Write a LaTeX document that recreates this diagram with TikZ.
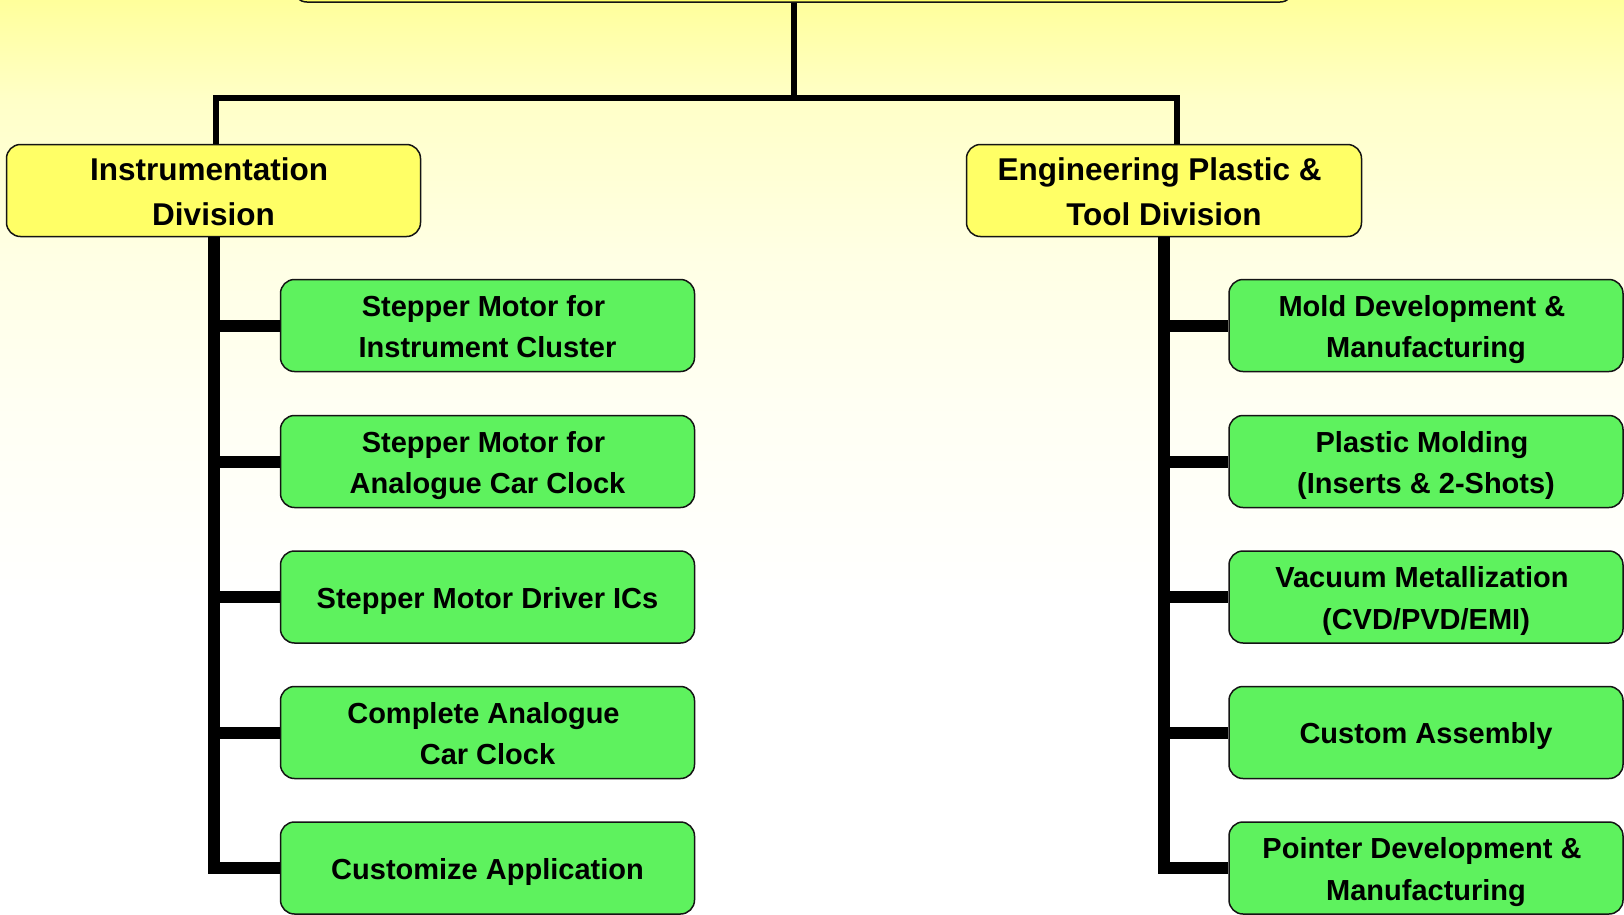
\documentclass[tikz,border=0pt]{standalone}
\usepackage{fontspec}
\setmainfont{Liberation Sans}

\definecolor{divyellow}{RGB}{255,255,102}
\definecolor{unitgreen}{RGB}{94,242,94}
\definecolor{edgeline}{RGB}{20,20,20}
\definecolor{fadeA}{RGB}{255,255,155}
\definecolor{fadeB}{RGB}{255,255,200}
\definecolor{fadeC}{RGB}{255,255,228}
\definecolor{fadeD}{RGB}{255,255,243}

% pale yellow wash fading to white towards the bottom of the page
\pgfdeclareverticalshading{pagefade}{100bp}{%
  color(0bp)=(white); color(42bp)=(white); color(53bp)=(fadeD);
  color(61bp)=(fadeC); color(69.5bp)=(fadeB); color(75bp)=(fadeA);
  color(100bp)=(fadeA)}

% invisible rules beside the text block fix its height and depth, so every
% label sits at the same place in its box (the rule spans one or two lines)
\newcommand{\unitstrut}{\rule[-9.75pt]{0pt}{41.5pt}}
\newcommand{\unittallstrut}{\rule[-9.75pt]{0pt}{84.25pt}}
\newcommand{\divtallstrut}{\rule[-10.5pt]{0pt}{90pt}}
% trailing blank kept at the end of a wrapped first line
\newcommand{\tailsp}{\hphantom{\ }}

\begin{document}
\begin{tikzpicture}[x=1pt, y=-1pt,
  boxbase/.style={draw=edgeline, line width=1.5pt, rounded corners=14pt,
    inner sep=0pt, align=center},
  division/.style={boxbase, fill=divyellow, minimum height=92pt,
    font=\bfseries\fontsize{31.5}{45}\selectfont,
    execute at begin node=\divtallstrut},
  unit/.style={boxbase, fill=unitgreen, minimum height=92pt,
    font=\bfseries\fontsize{29}{41.5}\selectfont},
  oneline/.style={execute at begin node=\unitstrut},
  twoline/.style={execute at begin node=\unittallstrut},
  leftunit/.style={unit, minimum width=414pt},
  rightunit/.style={unit, minimum width=394pt},
  link/.style={line width=6pt, line join=miter},
  stem/.style={line width=12pt, line join=miter}]

\useasboundingbox (0,0) rectangle (1624,914);
\clip (0,0) rectangle (1624,914);
\fill[shading=pagefade] (0,0) rectangle (1624,914);

% top-level box (only its lower edge falls inside the page)
\node[boxbase, fill=divyellow, minimum width=1001pt, minimum height=82pt]
  (root) at (793.5,-39) {};

% divisions
\node[division, minimum width=414pt] (instr) at (213.5,190.5)
  {Instrumentation\tailsp\\Division};
\node[division, minimum width=395pt] (eng) at (1164,190.5)
  {Engineering Plastic \&\tailsp\\Tool Division};

% Instrumentation units
\node[leftunit, twoline] (ia1) at (487.5,325.5) {Stepper Motor for\tailsp\\Instrument Cluster};
\node[leftunit, twoline] (ia2) at (487.5,461.5) {Stepper Motor for\tailsp\\Analogue Car Clock};
\node[leftunit, oneline] (ia3) at (487.5,597)   {Stepper Motor Driver ICs};
\node[leftunit, twoline] (ia4) at (487.5,732.5) {Complete Analogue\tailsp\\Car Clock};
\node[leftunit, oneline] (ia5) at (487.5,868)   {Customize Application};

% Engineering Plastic & Tool units
\node[rightunit, twoline] (eb1) at (1426,325.5) {Mold Development \&\tailsp\\Manufacturing};
\node[rightunit, twoline] (eb2) at (1426,461.5) {Plastic Molding\tailsp\\(Inserts \& 2-Shots)};
\node[rightunit, twoline] (eb3) at (1426,597)   {Vacuum Metallization\tailsp\\(CVD/PVD/EMI)};
\node[rightunit, oneline] (eb4) at (1426,732.5) {Custom Assembly};
\node[rightunit, twoline] (eb5) at (1426,868)   {Pointer Development \&\tailsp\\Manufacturing};

% connectors from the top box to the divisions
\coordinate (hub) at (793.5,97.5);
\draw[link] (root.south) -- (hub);
\draw[link] ([xshift=2.5pt]instr.north) |- (hub) -| ([xshift=13pt]eng.north);

% division stems and branches
\draw[stem] (instr.south) |- (ia5.west);
\draw[stem] (eng.south) |- (eb5.west);
\foreach \k in {1,2,3,4}{
  \draw[stem] (instr.south |- ia\k.west) -- (ia\k.west);
  \draw[stem] (eng.south |- eb\k.west) -- (eb\k.west);
}
\end{tikzpicture}
\end{document}
